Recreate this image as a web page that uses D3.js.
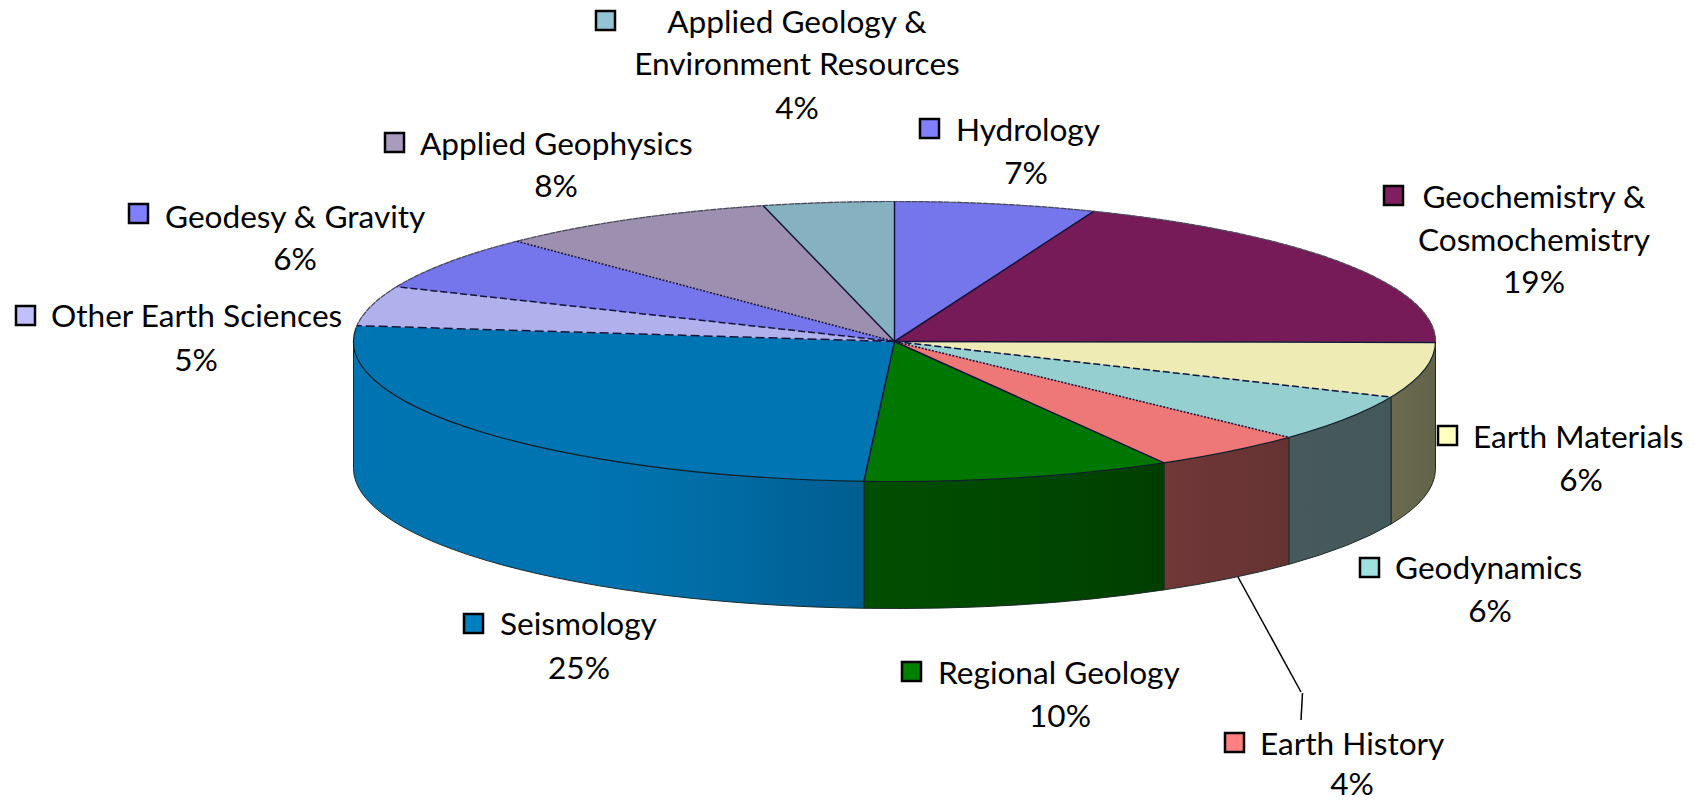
<!DOCTYPE html>
<html>
<head>
<meta charset="utf-8">
<script src="https://cdnjs.cloudflare.com/ajax/libs/d3/7.8.5/d3.min.js"></script>
<style>
  html, body { margin: 0; padding: 0; background: #fff; }
  svg { display: block; }
  text { font-family: Lato, "Open Sans", sans-serif; fill: #000; }
</style>
</head>
<body>
<div id="chart"></div>
<script>
(function () {
  'use strict';

  // ── Data, clockwise from 12 o'clock ──
  var CATEGORIES = ['Hydrology', 'Geochemistry & Cosmochemistry', 'Earth Materials', 'Geodynamics',
    'Earth History', 'Regional Geology', 'Seismology', 'Other Earth Sciences', 'Geodesy & Gravity',
    'Applied Geophysics', 'Applied Geology & Environment Resources'];
  // slice sizes as they appear in the drawing (the printed labels are rounded differently)
  var SHARES = [6.0, 19.1, 6.4, 5.5, 4.7, 9.2, 25.9, 4.6, 6.3, 8.4, 3.9];
  var PERCENT_LABELS = ['7%', '19%', '6%', '6%', '4%', '10%', '25%', '5%', '6%', '8%', '4%'];

  // ── Colours ──
  var TOP_COLORS = ['#7676ec', '#761b57', '#eeecb4', '#95cfcf', '#ee7777', '#007700', '#0075b3',
    '#b0b0ec', '#7676ec', '#9c8fb0', '#86b1c1'];
  var KEY_COLORS = ['#8080ff', '#7f1f5f', '#ffffc0', '#a0e0e0', '#ff8080', '#008000', '#0080c0',
    '#c0c0ff', '#8080ff', '#a89bbd', '#93c3d4'];
  // wall shading stops, left to right
  var WALL_STOPS = {
    2: ['#6b6b50', '#636349'],
    3: ['#48595b', '#43585a'],
    4: ['#713838', '#663232'],
    5: ['#004e00', '#004800', '#003e00'],
    6: ['#0074b1', '#0074b1', '#006fa8', '#005d90']
  };

  // boundary line style at the END of each slice
  var EDGE_DASH = [null, null, '7,3', '2,1.5', null, null, '9,4', '7,3', '2,1.5', null, null];

  // ── Layout ──
  var WIDTH = 1700, HEIGHT = 802;
  var CX = 894.5, CY = 341.5, RX = 541, RY = 140, DEPTH = 127;
  var FONT_SIZE = 31.6;
  var KEY_SIZE = 19;

  // key x,y (top-left), then text lines: anchor x, baseline y
  var LEGEND = [
    { key: [920, 119], lines: [[956, 141, 'start']], pct: [1026, 184] },
    { key: [1384, 186], lines: [[1534, 208, 'middle'], [1534, 251, 'middle']], pct: [1534, 293] },
    { key: [1438, 426], lines: [[1473, 448, 'start']], pct: [1581, 491] },
    { key: [1360, 558], lines: [[1395, 579, 'start']], pct: [1490, 622] },
    { key: [1225, 733], lines: [[1260, 755, 'start']], pct: [1352, 795] },
    { key: [902, 662], lines: [[938, 684, 'start']], pct: [1060, 727] },
    { key: [464, 614], lines: [[500, 635, 'start']], pct: [579, 679] },
    { key: [16, 306], lines: [[51, 327, 'start']], pct: [196, 371] },
    { key: [129, 204], lines: [[165, 228, 'start']], pct: [295, 270] },
    { key: [385, 133], lines: [[420, 155, 'start']], pct: [556, 197] },
    { key: [596, 11], lines: [[797, 33, 'middle'], [797, 75, 'middle']], pct: [797, 119] }
  ];
  var LABEL_TEXT = [['Hydrology'], ['Geochemistry &', 'Cosmochemistry'], ['Earth Materials'], ['Geodynamics'],
    ['Earth History'], ['Regional Geology'], ['Seismology'], ['Other Earth Sciences'], ['Geodesy & Gravity'],
    ['Applied Geophysics'], ['Applied Geology &', 'Environment Resources']];
  var LEADER = [[1238, 577], [1301, 692]];
  var LEADER_TAIL = [[1302.5, 693], [1301, 720]];

  // ── Scales ──
  var xScale = d3.scaleLinear().domain([-1, 1]).range([CX - RX, CX + RX]);
  var yScale = d3.scaleLinear().domain([-1, 1]).range([CY - RY, CY + RY]);

  function rimX(a) { return xScale(Math.sin(a)); }
  function rimY(a) { return yScale(-Math.cos(a)); }

  var pie = d3.pie().sort(null).value(function (d) { return d; });
  var slices = pie(SHARES);
  var arc = d3.arc().innerRadius(0).outerRadius(RX);

  var svg = d3.select('#chart').append('svg')
    .attr('width', WIDTH)
    .attr('height', HEIGHT)
    .attr('viewBox', '0 0 ' + WIDTH + ' ' + HEIGHT);

  var defs = svg.append('defs');

  // ── Side wall, only the part facing the viewer ──
  function wallPath(d) {
    var a0 = Math.max(d.startAngle, Math.PI / 2);
    var a1 = Math.min(d.endAngle, Math.PI * 3 / 2);
    return 'M' + rimX(a0) + ',' + rimY(a0) +
      'A' + RX + ',' + RY + ' 0 0 1 ' + rimX(a1) + ',' + rimY(a1) +
      'L' + rimX(a1) + ',' + (rimY(a1) + DEPTH) +
      'A' + RX + ',' + RY + ' 0 0 0 ' + rimX(a0) + ',' + (rimY(a0) + DEPTH) + 'Z';
  }

  var wallSlices = slices.filter(function (d) {
    return d.endAngle > Math.PI / 2 + 0.01 && d.startAngle < Math.PI * 3 / 2;
  });

  wallSlices.forEach(function (d) {
    var stops = WALL_STOPS[d.index];
    var grad = defs.append('linearGradient')
      .attr('id', 'wall-' + d.index)
      .attr('x1', 0).attr('x2', 1).attr('y1', 0).attr('y2', 0);
    stops.forEach(function (c, i) {
      // the blue wall stays flat over its left half, then darkens towards the green slice
      var offset = stops.length === 4 ? [0, 0.45, 0.65, 1][i] : i / (stops.length - 1);
      grad.append('stop').attr('offset', offset).attr('stop-color', c);
    });
  });

  svg.append('g').attr('class', 'walls')
    .selectAll('path')
    .data(wallSlices)
    .join('path')
    .attr('d', wallPath)
    .attr('fill', function (d) { return 'url(#wall-' + d.index + ')'; })
    .attr('stroke', '#1c2a2a')
    .attr('stroke-width', 1);

  // ── Top face ──
  var top = svg.append('g').attr('class', 'top-face')
    .attr('transform', 'translate(' + CX + ',' + CY + ') scale(1,' + (RY / RX) + ')');

  top.selectAll('path')
    .data(slices)
    .join('path')
    .attr('d', arc)
    .attr('fill', function (d) { return TOP_COLORS[d.index]; })
    .attr('stroke', function (d) { return TOP_COLORS[d.index]; })
    .attr('stroke-width', 0.5)
    .attr('vector-effect', 'non-scaling-stroke');

  // rim: solid along the front, thin and greyer behind
  var rimArc = d3.arc().innerRadius(RX).outerRadius(RX);
  top.append('path')
    .attr('d', rimArc({ startAngle: Math.PI / 2, endAngle: Math.PI * 3 / 2 + 0.1 }))
    .attr('fill', 'none')
    .attr('stroke', '#10202a')
    .attr('stroke-width', 1.2)
    .attr('vector-effect', 'non-scaling-stroke');
  top.append('path')
    .attr('d', rimArc({ startAngle: -Math.PI / 2 + 0.1, endAngle: Math.PI / 2 }))
    .attr('fill', 'none')
    .attr('stroke', '#4a4a5a')
    .attr('stroke-width', 1.2)
    .attr('stroke-dasharray', '5,1.5')
    .attr('vector-effect', 'non-scaling-stroke');

  // ── Boundary lines between slices ──
  svg.append('g').attr('class', 'edges')
    .selectAll('line')
    .data(slices)
    .join('line')
    .attr('x1', xScale(0))
    .attr('y1', yScale(0))
    .attr('x2', function (d) { return rimX(d.endAngle); })
    .attr('y2', function (d) { return rimY(d.endAngle); })
    .attr('stroke', '#14143a')
    .attr('stroke-width', 1.5)
    .attr('stroke-dasharray', function (d) { return EDGE_DASH[d.index]; });

  // ── Legend labels ──
  var labels = svg.append('g').attr('class', 'labels')
    .selectAll('g')
    .data(CATEGORIES)
    .join('g');

  labels.each(function (name, i) {
    var g = d3.select(this);
    var spec = LEGEND[i];
    g.append('rect')
      .attr('x', spec.key[0])
      .attr('y', spec.key[1])
      .attr('width', KEY_SIZE)
      .attr('height', KEY_SIZE)
      .attr('fill', KEY_COLORS[i])
      .attr('stroke', '#000')
      .attr('stroke-width', 2.5);

    spec.lines.forEach(function (line, j) {
      g.append('text')
        .attr('x', line[0])
        .attr('y', line[1])
        .attr('text-anchor', line[2])
        .attr('font-size', FONT_SIZE)
        .text(LABEL_TEXT[i][j]);
    });

    g.append('text')
      .attr('x', spec.pct[0])
      .attr('y', spec.pct[1])
      .attr('text-anchor', 'middle')
      .attr('font-size', FONT_SIZE)
      .text(PERCENT_LABELS[i]);
  });

  // ── Leader line for Earth History ──
  [LEADER, LEADER_TAIL].forEach(function (seg) {
    svg.append('path')
      .attr('d', d3.line()(seg))
      .attr('fill', 'none')
      .attr('stroke', '#000')
      .attr('stroke-width', 1.5);
  });
})();
</script>
</body>
</html>
